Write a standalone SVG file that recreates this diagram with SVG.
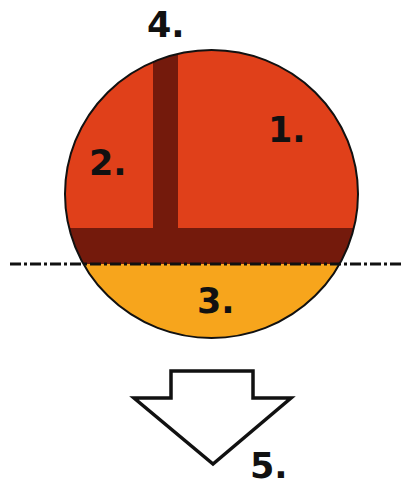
<svg xmlns="http://www.w3.org/2000/svg" width="404" height="487" viewBox="0 0 404 487">
<defs>
<style>
.lbl{font-family:"DejaVu Sans","Liberation Sans",sans-serif;font-weight:bold;font-size:35px;fill:#111}
</style>
<clipPath id="disc"><ellipse cx="211.5" cy="194" rx="146.5" ry="144"/></clipPath>
</defs>
<rect width="404" height="487" fill="#fff"/>
<g id="sphere">
<g clip-path="url(#disc)">
<rect x="60" y="45" width="305" height="300" fill="#E0401A"/>
<rect x="60" y="228" width="305" height="36" fill="#741A0C"/>
<rect x="153" y="45" width="25" height="190" fill="#741A0C"/>
<rect x="60" y="264" width="305" height="80" fill="#F7A51C"/>
</g>
<ellipse cx="211.5" cy="194" rx="146.5" ry="144" fill="none" stroke="#111" stroke-width="2"/>
</g>
<g id="axis">
<line x1="10" y1="264" x2="404" y2="264" stroke="#111" stroke-width="3" stroke-dasharray="11 3 3 3"/>
</g>
<g id="arrow">
<polygon points="171,371 253,371 253,398 291,398 213,464 134,398 171,398" fill="#fff" stroke="#111" stroke-width="3.5" stroke-linejoin="miter"/>
</g>
<g id="labels">
<text class="lbl" x="147" y="37">4.</text>
<text class="lbl" x="268" y="142">1.</text>
<text class="lbl" x="89" y="175">2.</text>
<text class="lbl" x="197" y="313">3.</text>
<text class="lbl" x="250" y="478">5.</text>
</g>
</svg>
